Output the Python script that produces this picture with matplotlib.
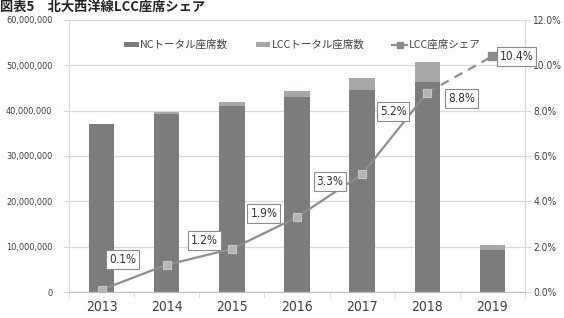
import matplotlib
matplotlib.use("Agg")
import matplotlib.pyplot as plt
from matplotlib import font_manager
from matplotlib.ticker import FuncFormatter, FixedLocator
from matplotlib.lines import Line2D
from matplotlib.patches import Patch

# data
years = ["2013", "2014", "2015", "2016", "2017", "2018", "2019"]
nc_seats = [36950000, 39300000, 41050000, 42950000, 44650000, 46350000, 9300000]
lcc_seats = [50000, 480000, 800000, 1470000, 2450000, 4470000, 1080000]
lcc_share = [0.1, 1.2, 1.9, 3.3, 5.2, 8.8, 10.4]
share_labels = ["0.1%", "1.2%", "1.9%", "3.3%", "5.2%", "8.8%", "10.4%"]
# label offsets (pixels) from each point
label_offsets = [(21, 30), (38, 24), (32, 35), (33, 36), (31, 63), (34, -6), (24, 0)]

NC_COLOR = "#7b7c7e"
LCC_COLOR = "#a7a8a9"
LINE_COLOR = "#8e8e8e"
GRID = "#d9d9d9"
TXT = "#404040"
JP = ["Noto Sans CJK JP", "DejaVu Sans"]

# a narrow face for the numbers, if one is installed
names = {f.name for f in font_manager.fontManager.ttflist}
if "Liberation Sans Narrow" in names:
    NARROW = dict(family="Liberation Sans Narrow")
else:
    NARROW = dict(family="DejaVu Sans", stretch="condensed")

fig = plt.figure(figsize=(5.64, 3.18), dpi=100)
ax = fig.add_axes([69 / 564, 1 - 292 / 318, (525 - 69) / 564, (292 - 20) / 318])
ax2 = ax.twinx()

x = list(range(len(years)))
ax.bar(x, nc_seats, width=0.39, color=NC_COLOR, zorder=2)
ax.bar(x, lcc_seats, width=0.39, bottom=nc_seats, color=LCC_COLOR, zorder=2)

ax.set_xlim(-0.5, len(years) - 0.5)
ax.set_ylim(0, 60000000)
ax.set_yticks(range(0, 60000001, 10000000))
ax.yaxis.set_major_formatter(FuncFormatter(lambda v, p: f"{int(v):,}"))
ax.yaxis.grid(True, color=GRID, linewidth=0.9, zorder=0)
ax.set_axisbelow(True)
ax.set_xticks(x)
ax.set_xticklabels(years)
ax.xaxis.set_minor_locator(FixedLocator([i - 0.5 for i in range(len(years) + 1)]))
ax.tick_params(axis="x", which="major", length=0, pad=6, labelcolor=TXT)
ax.tick_params(axis="x", which="minor", length=4, color=GRID)
ax.tick_params(axis="y", length=4, color=GRID, pad=8, labelcolor=TXT)
for lbl in ax.get_xticklabels():
    lbl.set(size=10, **NARROW)
for lbl in ax.get_yticklabels():
    lbl.set(size=6.6, **NARROW)

for a in (ax, ax2):
    a.spines["top"].set_visible(False)
    a.spines["left"].set_color(GRID)
    a.spines["right"].set_color(GRID)
    a.spines["bottom"].set_color("#bfbfbf")

# share line on right axis
ax2.set_ylim(0, 12)
ax2.set_yticks([0, 2, 4, 6, 8, 10, 12])
ax2.yaxis.set_major_formatter(FuncFormatter(lambda v, p: f"{v:.1f}%"))
ax2.tick_params(axis="y", length=4, color=GRID, pad=2, labelcolor=TXT)
for lbl in ax2.get_yticklabels():
    lbl.set(size=7.3, **NARROW)

ax2.plot(x[:6], lcc_share[:6], color=LINE_COLOR, linewidth=1.6, zorder=3)
ax2.plot(x[5:], lcc_share[5:], color=LINE_COLOR, linewidth=1.6, linestyle=(0, (4, 3)), zorder=3)
ax2.plot(x[:6], lcc_share[:6], linestyle="none", marker="s", markersize=5.5,
         markerfacecolor="#b4b4b4", markeredgecolor="#c8c8c8", markeredgewidth=0.8, zorder=4)
ax2.plot(x[6:], lcc_share[6:], linestyle="none", marker="s", markersize=5.5,
         markerfacecolor="#8a8a8a", markeredgecolor="#8a8a8a", zorder=4)

for xi, yi, txt, off in zip(x, lcc_share, share_labels, label_offsets):
    ax2.annotate(txt, (xi, yi), xytext=off, textcoords="offset pixels",
                 ha="center", va="center", fontsize=8.5, color="#333333", **NARROW,
                 annotation_clip=False, zorder=5,
                 bbox=dict(boxstyle="square,pad=0.25", facecolor="white",
                           edgecolor="#8a8a8a", linewidth=0.8))

# legend
handles = [
    Patch(facecolor=NC_COLOR, edgecolor="none"),
    Patch(facecolor=LCC_COLOR, edgecolor="none"),
    Line2D([0], [0], color=LINE_COLOR, linewidth=1.6, marker="s", markersize=4,
           markerfacecolor="#8a8a8a", markeredgecolor="#8a8a8a"),
]
leg = fig.legend(handles, ["NCトータル座席数", "LCCトータル座席数", "LCC座席シェア"],
                 loc="center", bbox_to_anchor=(302 / 564, 1 - 45 / 318), ncol=3,
                 frameon=False, prop={"family": JP, "size": 7.6},
                 handlelength=1.4, handleheight=0.35, handletextpad=0.15, columnspacing=2.6)
for t in leg.get_texts():
    t.set_color(TXT)

fig.text(0.0, 1 - 6.5 / 318, "図表5　北大西洋線LCC座席シェア", ha="left", va="center",
         fontsize=9.5, fontweight="bold", family=JP, color="#222222")

fig.savefig("out.png", dpi=100)
